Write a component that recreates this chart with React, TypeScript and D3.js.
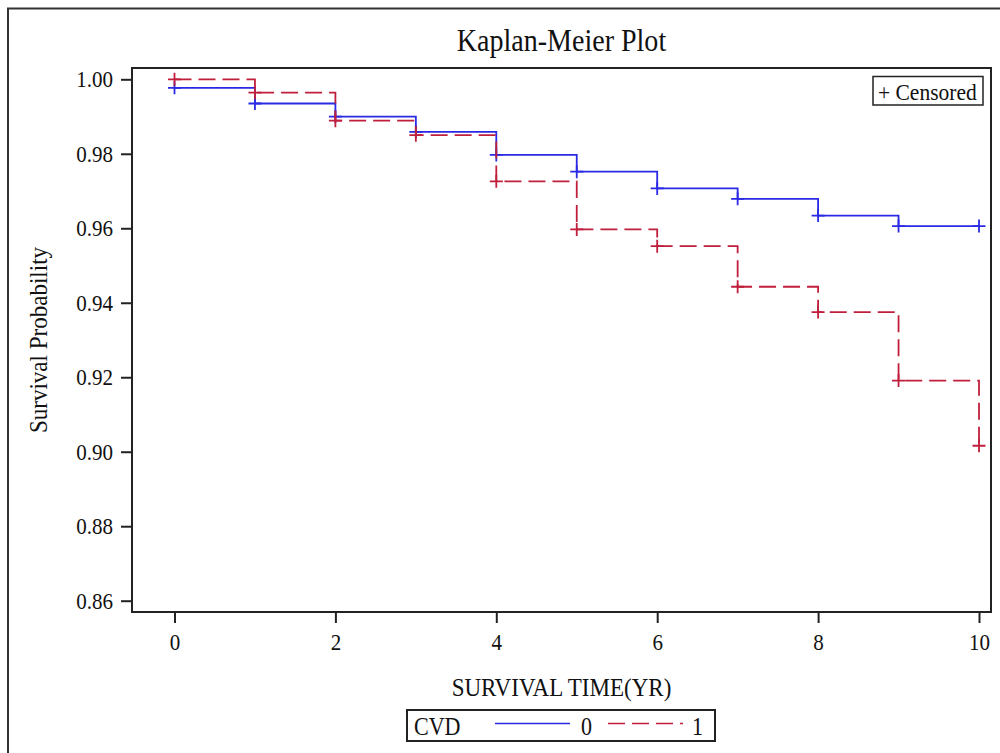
import { useEffect, useRef } from "react";
import * as d3 from "d3";

// Kaplan-Meier estimates, one value per year
const times = [0, 1, 2, 3, 4, 5, 6, 7, 8, 9, 10];
const survivalCvd0 = [0.9977, 0.9935, 0.99, 0.9859, 0.9797, 0.9752, 0.9707, 0.9679, 0.9634, 0.9606, 0.9606];
const survivalCvd1 = [1.0, 0.9964, 0.9889, 0.985, 0.9726, 0.9597, 0.9552, 0.9443, 0.9375, 0.9191, 0.9016];
const xTicks = [0, 2, 4, 6, 8, 10];
const yTicks = [0.86, 0.88, 0.9, 0.92, 0.94, 0.96, 0.98, 1.0];
const groupLabels = ["0", "1"];

const BLUE = "#2a2ae4";
const RED = "#c01f3c";
const INK = "#222";
const FONT = "'Liberation Serif', 'DejaVu Serif', serif";
// SAS font is taller for its width: draw bigger, then squeeze horizontally
const GROW = 1.1;
const SQUEEZE = 0.91;
const fs = (px: number) => `${px * GROW}px`;

const plot = { left: 132, top: 68, right: 991, bottom: 612 };

export default function App() {
  const ref = useRef<SVGGElement | null>(null);

  useEffect(() => {
    const g = d3.select(ref.current);
    g.selectAll("*").remove();

    const x = d3.scaleLinear().domain([0, 10]).range([174.5, 979]);
    const y = d3.scaleLinear().domain([0.86, 1.0]).range([600.7, 79.3]);

    // axes (ticks pointing out of the frame)
    const yAxis = d3
      .axisLeft(y)
      .tickValues(yTicks)
      .tickSize(11)
      .tickPadding(8)
      .tickFormat(d3.format(".2f"));
    const xAxis = d3.axisBottom(x).tickValues(xTicks).tickSize(11).tickPadding(11);

    const ya = g.append("g").attr("transform", `translate(${plot.left},0)`).call(yAxis);
    const xa = g.append("g").attr("transform", `translate(0,${plot.bottom})`).call(xAxis);
    [ya, xa].forEach((a) => {
      a.select(".domain").remove();
      a.selectAll("line").attr("stroke", INK).attr("stroke-width", 2);
      a.selectAll("text")
        .attr("fill", "#111")
        .style("font-family", FONT)
        .style("font-size", fs(21));
    });

    // plot frame
    g.append("rect")
      .attr("x", plot.left)
      .attr("y", plot.top)
      .attr("width", plot.right - plot.left)
      .attr("height", plot.bottom - plot.top)
      .attr("fill", "none")
      .attr("stroke", INK)
      .attr("stroke-width", 2);

    const step = d3
      .line<number>()
      .x((_, i) => x(times[i]))
      .y((d) => y(d))
      .curve(d3.curveStepAfter);

    const series = [
      { values: survivalCvd0, color: BLUE, dash: null as string | null },
      { values: survivalCvd1, color: RED, dash: "17,7" },
    ];

    series.forEach((s) => {
      g.append("path")
        .datum(s.values)
        .attr("fill", "none")
        .attr("stroke", s.color)
        .attr("stroke-width", 1.8)
        .attr("stroke-dasharray", s.dash)
        .attr("d", step);

      // censoring marks
      g.append("g")
        .selectAll("path")
        .data(s.values)
        .join("path")
        .attr("transform", (d, i) => `translate(${x(times[i])},${y(d)})`)
        .attr("d", "M-6.5,0H6.5M0,-6.5V6.5")
        .attr("stroke", s.color)
        .attr("stroke-width", 1.8);
    });

    // censored legend
    g.append("rect")
      .attr("x", 873)
      .attr("y", 76.5)
      .attr("width", 110)
      .attr("height", 28.5)
      .attr("fill", "white")
      .attr("stroke", INK)
      .attr("stroke-width", 1.5);
    g.append("text")
      .attr("x", 878)
      .attr("y", 99.5)
      .attr("fill", "#111")
      .style("font-family", FONT)
      .style("font-size", fs(21.5))
      .text("+ Censored");

    // titles
    g.append("text")
      .attr("x", (plot.left + plot.right) / 2)
      .attr("y", 51)
      .attr("text-anchor", "middle")
      .attr("fill", "#111")
      .style("font-family", FONT)
      .style("font-size", fs(28))
      .text("Kaplan-Meier Plot");
    g.append("text")
      .attr("x", (plot.left + plot.right) / 2)
      .attr("y", 696)
      .attr("text-anchor", "middle")
      .attr("fill", "#111")
      .style("font-family", FONT)
      .style("font-size", fs(23))
      .text("SURVIVAL TIME(YR)");
    g.append("text")
      .attr("transform", `translate(47,${(plot.top + plot.bottom) / 2}) rotate(-90)`)
      .attr("text-anchor", "middle")
      .attr("fill", "#111")
      .style("font-family", FONT)
      .style("font-size", fs(23))
      .text("Survival Probability");

    // group legend
    const lg = g.append("g");
    lg.append("rect")
      .attr("x", 407)
      .attr("y", 710)
      .attr("width", 308)
      .attr("height", 31)
      .attr("fill", "white")
      .attr("stroke", INK)
      .attr("stroke-width", 2);
    lg.append("text")
      .attr("x", 414)
      .attr("y", 735)
      .attr("fill", "#111")
      .style("font-family", FONT)
      .style("font-size", fs(22))
      .text("CVD");
    const entries = [
      { x0: 495, x1: 570, tx: 581, color: BLUE, dash: null as string | null },
      { x0: 608, x1: 683, tx: 692, color: RED, dash: "17,7" },
    ];
    entries.forEach((e, i) => {
      lg.append("line")
        .attr("x1", e.x0)
        .attr("x2", e.x1)
        .attr("y1", 723.5)
        .attr("y2", 723.5)
        .attr("stroke", e.color)
        .attr("stroke-width", 1.5)
        .attr("stroke-dasharray", e.dash);
      lg.append("text")
        .attr("x", e.tx)
        .attr("y", 735)
        .attr("fill", "#111")
        .style("font-family", FONT)
        .style("font-size", fs(22))
        .text(groupLabels[i]);
    });

    // squeeze the enlarged text back to the widths seen in the picture
    g.selectAll<SVGTextElement, unknown>("text").each(function () {
      const w = this.getComputedTextLength();
      if (w > 0) {
        d3.select(this)
          .attr("textLength", w * SQUEEZE)
          .attr("lengthAdjust", "spacingAndGlyphs");
      }
    });
  }, []);

  return (
    <div style={{ position: "absolute", left: 0, top: 0, width: 1000, height: 753, overflow: "hidden" }}>
      <svg width={1000} height={753} style={{ display: "block", background: "white" }}>
        {/* outer frame runs past the right and bottom edges */}
        <rect x={8} y={8.5} width={1100} height={1000} fill="white" stroke="#333" strokeWidth={2} />
        <g ref={ref} />
      </svg>
    </div>
  );
}
